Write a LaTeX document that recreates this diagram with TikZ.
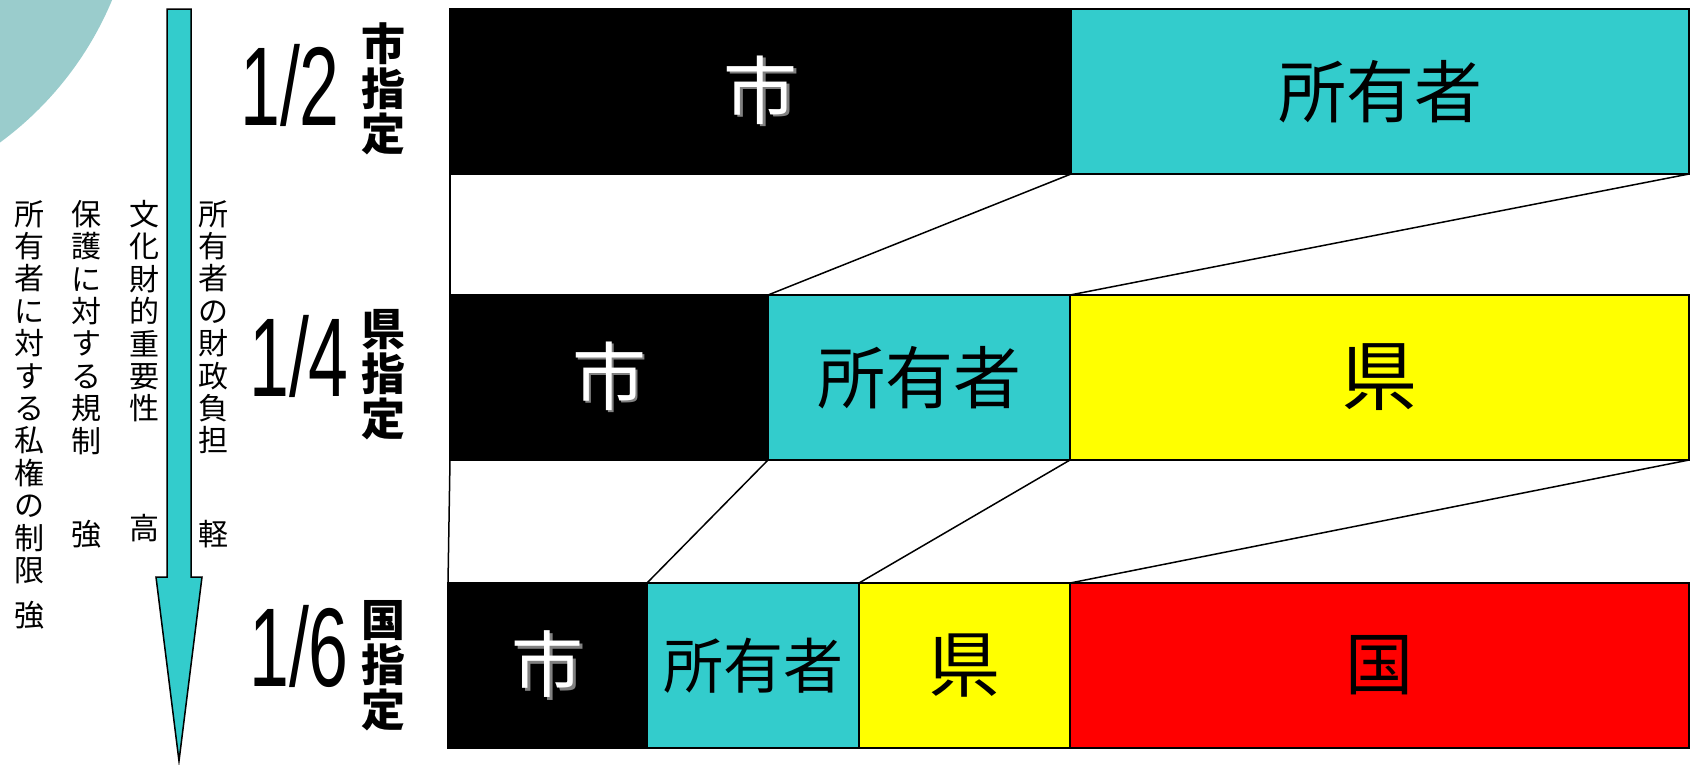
\documentclass[tikz,border=0pt]{standalone}
\usepackage{fontspec}
\setmainfont{Liberation Sans}
\newfontfamily\cjk{Noto Sans CJK JP}
\newfontfamily\numfont{Liberation Sans}
\definecolor{teal1}{HTML}{33CCCC}
\definecolor{circ}{HTML}{9ACCCC}
\definecolor{yel}{HTML}{FFFF00}
\definecolor{redc}{HTML}{FF0000}
\newcommand\shtext[1]{\makebox[0pt][l]{\hspace{2.5pt}\raisebox{-2.5pt}{\color{gray}#1}}{\color{white}#1}}
\begin{document}
\begin{tikzpicture}[x=1pt,y=-1pt,
  box/.style={draw=black,line width=1.5pt,anchor=north west,inner sep=0pt,outer sep=0pt,minimum height=165pt},
  conn/.style={draw=black,line width=1.5pt},
  bl/.style={font=\cjk\fontsize{#1}{#1}\selectfont},
  numl/.style={font=\numfont\fontsize{112}{112}\selectfont,inner sep=0pt},
  vlab/.style={font=\cjk\bfseries\fontsize{44}{45}\selectfont,align=center,inner sep=0pt},
  side/.style={font=\cjk\fontsize{30}{32.4}\selectfont,align=center,inner sep=0pt,anchor=north},
  sidec/.style={font=\cjk\fontsize{30}{32.4}\selectfont,inner sep=0pt}]
\useasboundingbox (0,0) rectangle (1692,764);
\begin{scope}
\clip (0,0) rectangle (1692,764);
\fill[circ] (-200,-130) circle (338pt);
\end{scope}
% arrow
\draw[fill=teal1,line width=1.5pt] (167,9) -- (191,9) -- (191,577) -- (202,577) -- (179,761) -- (156,577) -- (167,577) -- cycle;
% side texts
\node[side] (s1) at (213,200) {所\\有\\者\\の\\財\\政\\負\\担};
\node[sidec] (s1b) at (213,534) {軽};
\node[side] (s2) at (144,200) {文\\化\\財\\的\\重\\要\\性};
\node[sidec] (s2b) at (144,528) {高};
\node[side] (s3) at (86,200) {保\\護\\に\\対\\す\\る\\規\\制};
\node[sidec] (s3b) at (86,534) {強};
\node[side] (s4) at (29,200) {所\\有\\者\\に\\対\\す\\る\\私\\権\\の\\制\\限};
\node[sidec] (s4b) at (29,615) {強};
% fraction labels
\node[numl] (f1) at (290,85) {\scalebox{0.64}[1]{1/2}};
\node[numl] (f2) at (299,356) {\scalebox{0.64}[1]{1/4}};
\node[numl] (f3) at (299,646) {\scalebox{0.64}[1]{1/6}};
\node[vlab] (d1) at (383,89) {市\\指\\定};
\node[vlab] (d2) at (383,375) {県\\指\\定};
\node[vlab] (d3) at (383,666) {国\\指\\定};
% row 1
\node[box,fill=black,minimum width=621pt,bl=74] (a1) at (450,9) {\shtext{市}};
\node[box,fill=teal1,minimum width=618pt,bl=68] (b1) at (1071,9) {所有者};
% row 2
\node[box,fill=black,minimum width=318pt,bl=74] (a2) at (450,295) {\shtext{市}};
\node[box,fill=teal1,minimum width=302pt,bl=68] (b2) at (768,295) {所有者};
\node[box,fill=yel,minimum width=619pt,bl=76] (c2) at (1070,295) {県};
% row 3
\node[box,fill=black,minimum width=199pt,bl=72] (a3) at (448,583) {\shtext{市}};
\node[box,fill=teal1,minimum width=212pt,bl=60] (b3) at (647,583) {所有者};
\node[box,fill=yel,minimum width=211pt,bl=72] (c3) at (859,583) {県};
\node[box,fill=redc,minimum width=619pt,bl=68] (d3) at (1070,583) {国};
% connectors
\draw[conn] (a1.south west) -- (a2.north west);
\draw[conn] (a1.south east) -- (b2.north west);
\draw[conn] (b1.south east) -- (c2.north west);
\draw[conn] (a2.south west) -- (a3.north west);
\draw[conn] (a2.south east) -- (b3.north west);
\draw[conn] (b2.south east) -- (c3.north west);
\draw[conn] (c2.south east) -- (d3.north west);
\end{tikzpicture}
\end{document}
